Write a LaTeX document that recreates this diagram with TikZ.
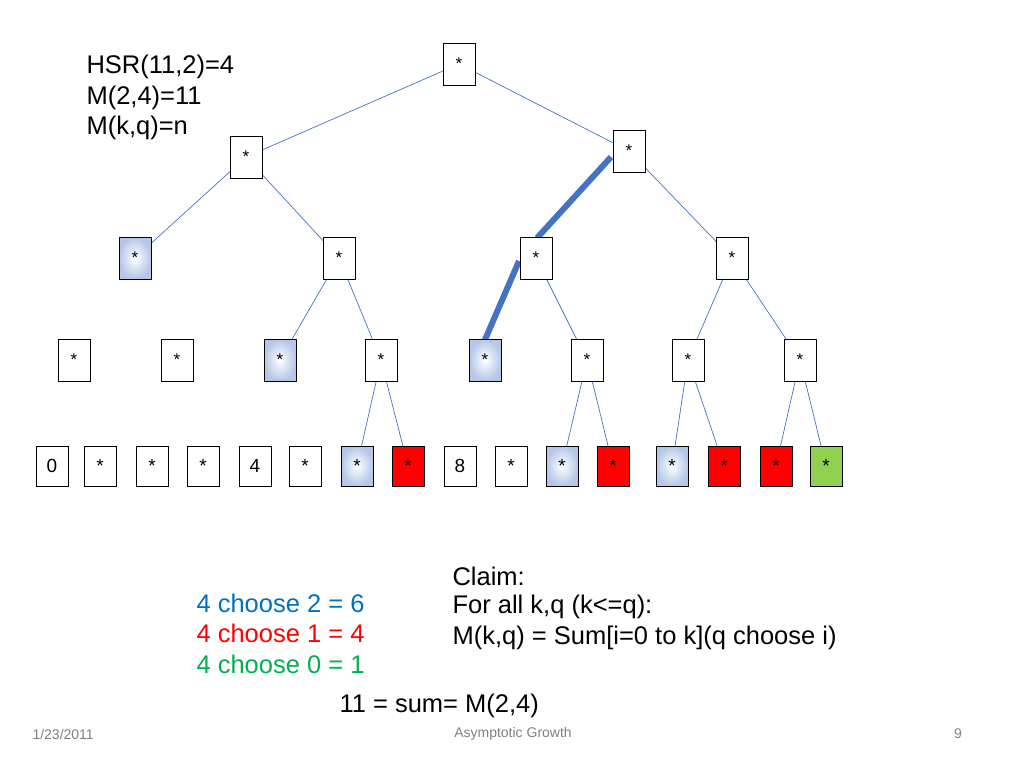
\documentclass[tikz,border=0pt]{standalone}
\usepackage{fontspec}
\setmainfont{Liberation Sans}
\definecolor{eb}{RGB}{68,114,196}
\definecolor{tb}{RGB}{0,112,192}
\definecolor{tg}{RGB}{0,176,80}
\begin{document}
\begin{tikzpicture}[x=1pt,y=-1pt,
  bx/.style={draw,fill=white,minimum width=32pt,minimum height=42pt,inner sep=0pt,font=\fontsize{17}{19}\selectfont},
  bb/.style={draw,minimum width=32pt,minimum height=40pt,inner sep=0pt,font=\fontsize{19}{21}\selectfont},
  sh/.style={shading=radial,inner color=white,outer color=eb!40},
  rd/.style={fill=red},
  e/.style={draw=eb,line width=0.7pt},
  te/.style={draw=eb,line width=6pt},
  tx/.style={font=\fontsize{25.5}{30}\selectfont,anchor=west}]
\useasboundingbox (0,0) rectangle (1024,768);
\coordinate (r) at (459,64);
\coordinate (a) at (246,157);
\coordinate (b) at (629,151);
\coordinate (a1) at (135,258);
\coordinate (a2) at (339,258);
\coordinate (b1) at (536,258);
\coordinate (b2) at (732,258);
\foreach \n/\x in {c1/74,c2/177,c3/280,c4/381,c5/485,c6/587,c7/688,c8/800}{\coordinate (\n) at (\x,360);}
\foreach \n/\x in {1/52,2/100,3/152,4/203,5/255,6/305,7/357,8/408,9/460,10/511,11/562,12/613,13/672,14/724,15/776,16/826}{\coordinate (d\n) at (\x,466);}
\draw[e] (r) -- (a); \draw[e] (r) -- (b);
\draw[e] (a) -- (a1); \draw[e] (a) -- (a2);
\draw[e] (b) -- (b2);
\draw[e] (a2) -- (c3); \draw[e] (a2) -- (c4);
\draw[e] (b1) -- (c6);
\draw[e] (b2) -- (c7); \draw[e] (b2) -- (c8);
\draw[e] (c4) -- (d7); \draw[e] (c4) -- (d8);
\draw[e] (c6) -- (d11); \draw[e] (c6) -- (d12);
\draw[e] (c7) -- (d13); \draw[e] (c7) -- (d14);
\draw[e] (c8) -- (d15); \draw[e] (c8) -- (d16);
\draw[te] (611,157) -- (537,238);
\draw[te] (519,261) -- (484,342);
\node[bx] (R) at (r) {*};
\node[bx] (A) at (a) {*};
\node[bx] (B) at (b) {*};
\node[bx,sh] (A1) at (a1) {*};
\node[bx] (A2) at (a2) {*};
\node[bx] (B1) at (b1) {*};
\node[bx] (B2) at (b2) {*};
\node[bx] (C1) at (c1) {*};
\node[bx] (C2) at (c2) {*};
\node[bx,sh] (C3) at (c3) {*};
\node[bx] (C4) at (c4) {*};
\node[bx,sh] (C5) at (c5) {*};
\node[bx] (C6) at (c6) {*};
\node[bx] (C7) at (c7) {*};
\node[bx] (C8) at (c8) {*};
\node[bb,fill=white] (D1) at (d1) {0};
\node[bb,fill=white] (D2) at (d2) {*};
\node[bb,fill=white] (D3) at (d3) {*};
\node[bb,fill=white] (D4) at (d4) {*};
\node[bb,fill=white] (D5) at (d5) {4};
\node[bb,fill=white] (D6) at (d6) {*};
\node[bb,sh] (D7) at (d7) {*};
\node[bb,rd] (D8) at (d8) {*};
\node[bb,fill=white] (D9) at (d9) {8};
\node[bb,fill=white] (D10) at (d10) {*};
\node[bb,sh] (D11) at (d11) {*};
\node[bb,rd] (D12) at (d12) {*};
\node[bb,sh] (D13) at (d13) {*};
\node[bb,rd] (D14) at (d14) {*};
\node[bb,rd] (D15) at (d15) {*};
\node[bb,fill={rgb,255:red,146;green,208;blue,80}] (D16) at (d16) {*};
\node[tx] (t1) at (83,67) {HSR(11,2)=4};
\node[tx] (t2) at (83,98) {M(2,4)=11};
\node[tx] (t3) at (83,128) {M(k,q)=n};
\node[tx,text=tb] (u1) at (193,603) {4 choose 2 = 6};
\node[tx,text=red] (u2) at (193,633) {4 choose 1 = 4};
\node[tx,text=tg] (u3) at (193,664) {4 choose 0 = 1};
\node[tx] (v1) at (449,576) {Claim:};
\node[tx] (v2) at (449,607) {For all k,q (k<=q):};
\node[tx] (v3) at (449,638) {M(k,q) = Sum[i=0 to k](q choose i)};
\node[tx] (w) at (336,706) {11 = sum= M(2,4)};
\node[font=\fontsize{14}{16}\selectfont,text=gray,anchor=west] (f1) at (29,734) {1/23/2011};
\node[font=\fontsize{14}{16}\selectfont,text=gray] (f2) at (513,734) {Asymptotic Growth};
\node[font=\fontsize{14}{16}\selectfont,text=gray] (f3) at (958,734) {9};
\end{tikzpicture}
\end{document}
